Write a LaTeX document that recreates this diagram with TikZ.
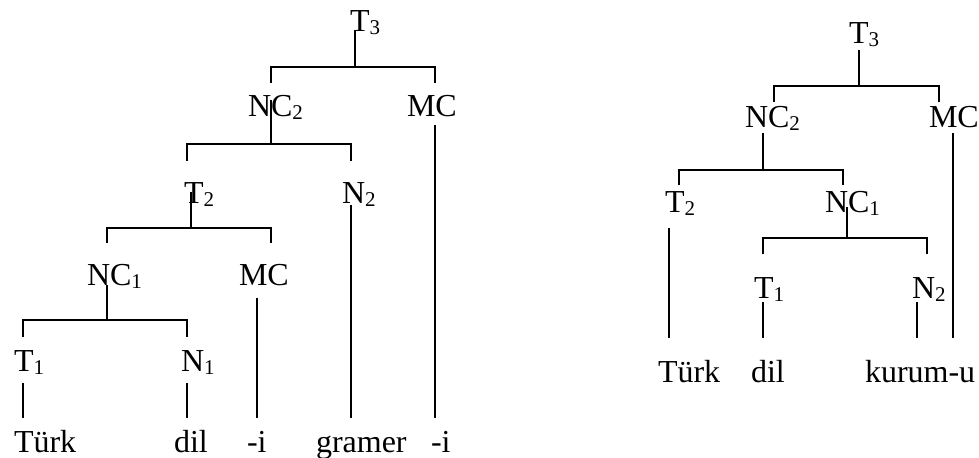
\documentclass[tikz,border=0pt]{standalone}
\usepackage{fontspec}
\setmainfont{Liberation Serif}
\newcommand\subidx[1]{\raisebox{-1.5pt}{\fontsize{10.5}{12}\selectfont #1}}

\begin{document}
\begin{tikzpicture}[x=0.5pt, y=-0.5pt, line width=1pt,
    lab/.style={anchor=base west, inner sep=0pt, font=\fontsize{16}{19}\selectfont}]
    \useasboundingbox (0,0) rectangle (979,458);

    % labels and words
    \foreach \name/\x/\y/\txt in {
        lT3/349/32/T\subidx{3}, lNC2/247/117/NC\subidx{2}, lMCa/406/117/MC,
        lT2/183/204/T\subidx{2}, lN2/341/204/N\subidx{2},
        lNC1/86/286/NC\subidx{1}, lMCb/238/286/MC,
        lT1/13/372/T\subidx{1}, lN1/180/372/N\subidx{1},
        wTurk/13/453/Türk, wDil/173/453/dil, wIa/246/453/-i,
        wGramer/315/453/gramer, wIb/430/453/-i,
        rT3/848/44/T\subidx{3}, rNC2/744/128/NC\subidx{2}, rMC/928/128/MC,
        rT2/664/213/T\subidx{2}, rNC1/824/213/NC\subidx{1},
        rT1/753/299/T\subidx{1}, rN2/911/299/N\subidx{2},
        vTurk/657/383/Türk, vDil/750/383/dil, vKurum/864/383/kurum-u
    } {
        \node[lab] (\name) at (\x,\y) {\txt};
    }

    % branchings: stem, bar and ticks
    \foreach \b/\px/\py/\ybar/\xl/\xr/\ytick in {
        bT3/355/30/67/271/435/83,
        bNC2/271/100/144/187/351/161,
        bT2/191/192/228/107/271/243,
        bNC1/107/285/320/23/187/337,
        cT3/859/50/86/774/939/102,
        cNC2/763/133/170/679/843/185,
        cNC1/847/207/238/763/927/254
    } {
        \coordinate (\b-top) at (\px,\py);
        \coordinate (\b-mid) at (\px,\ybar);
        \coordinate (\b-l) at (\xl,\ytick);
        \coordinate (\b-r) at (\xr,\ytick);
        \draw (\b-top) -- (\b-mid);
        \draw (\b-l) |- (\b-mid) -| (\b-r);
    }

    % single branches down to the words
    \foreach \n/\x/\ya/\yb in {
        eMCa/435/125/418, eN2/351/205/418, eMCb/257/298/418,
        eT1/23/383/418, eN1/187/383/418,
        fMC/953/133/338, fT2/669/228/338,
        fT1/763/302/338, fN2/917/302/338
    } {
        \coordinate (\n-a) at (\x,\ya);
        \coordinate (\n-b) at (\x,\yb);
        \draw (\n-a) -- (\n-b);
    }
\end{tikzpicture}
\end{document}
